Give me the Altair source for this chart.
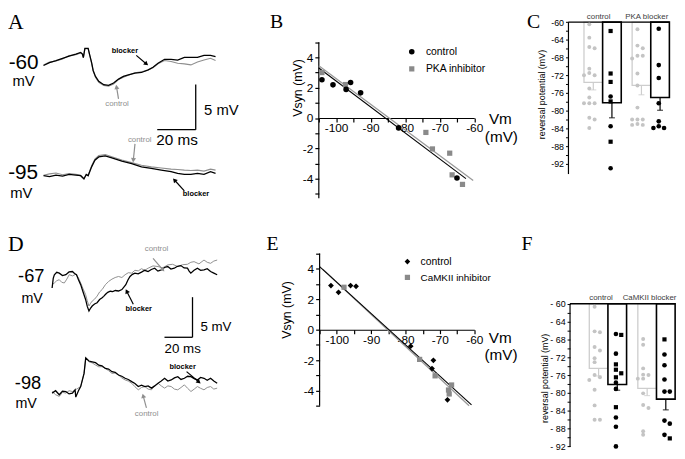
import math
import altair as alt
import pandas as pd

SANS = "Liberation Sans"
SERIF = "Liberation Serif"
BLACK = "#000000"
TRACE_GRAY = "#8f8f8f"
PT_GRAY = "#8a8a8a"
DOT_GRAY = "#c4c4c4"
BAR_GRAY = "#cdcdcd"
ONE = pd.DataFrame({"k": [0]})
SCALE_MS = 20
SCALE_MV = 5

# ---------------- (A) PKA experiment: time (ms) and deflection (mV) from trace start
A_TOP_T = [0, 3.1, 6.5, 9.9, 13.3, 16.8, 19.3, 20.2, 20.7, 21.5, 23.2, 23.9, 25.0, 25.8, 27.0, 28.7, 31.3, 33.8,
           36.4, 39.0, 41.5, 44.1, 47.5, 50.9, 54.4, 56.9, 59.5, 62.9, 66.3, 69.7, 73.2, 76.6, 80.0, 83.4, 86.8, 89.4]
A_TOP_BLOCKER = [0, 0.33, 0.55, 0.8, 1.05, 1.27, 1.45, 1.27, 0.87, 1.9, 1.9, 1.27, 0.33, -0.55, -1.2, -1.75, -2.12,
                 -2.19, -1.94, -1.5, -1.2, -1.03, -0.84, -0.77, -0.48, -0.19, 0.25, 0.69, 0.69, 0.61, 0.91, 0.91,
                 0.91, 1.13, 1.13, 0.98]
A_TOP_CONTROL = [0.05, 0.38, 0.5, 0.72, 1.1, 1.2, 1.4, 1.27, 0.87, 1.85, 1.85, 1.2, 0.25, -0.6, -1.3, -1.85, -2.2,
                 -2.3, -2.05, -1.55, -1.3, -1.08, -0.8, -0.7, -0.5, -0.25, 0.2, 0.55, 0.44, 0.25, 0.18, 0.07, 0.4,
                 0.61, 0.8, 0.55]
A_BOT_T = [0, 3.1, 6.5, 9.9, 13.3, 16.8, 19.3, 21.0, 22.2, 23.2, 25.0, 26.7, 28.7, 32.1, 35.5, 40.7, 45.8, 50.9,
           56.0, 61.2, 66.3, 69.7, 73.2, 76.6, 80.0, 83.4, 86.8, 89.4]
A_BOT_BLOCKER = [0, -0.11, 0.07, -0.04, 0.15, 0.07, 0, -0.36, 0.15, 0, 0.98, 1.72, 2.08, 2.19, 1.97, 1.61, 1.35,
                 0.98, 0.8, 0.62, 0.44, 0.26, 0.15, 0.15, 0.26, 0.15, 0.44, 0.26]
A_BOT_CONTROL = [0.05, 0.2, 0.3, 0.1, 0.25, 0.15, 0.05, -0.3, 0.1, 0.05, 1.1, 1.85, 2.25, 2.34, 2.1, 1.75, 1.45,
                 1.15, 0.98, 0.85, 0.73, 0.68, 0.62, 0.58, 0.62, 0.51, 0.73, 0.62]

# ---------------- (B) I-V, PKA inhibitor
B_CTRL_VM = [-104.1, -100.9, -97.1, -95.8, -92.9, -81.9, -65.0]
B_CTRL_VSYN = [2.53, 2.19, 1.89, 2.34, 1.66, -0.65, -3.96]
B_PKA_VM = [-104.1, -97.3, -74.0, -72.1, -67.1, -66.4, -63.4]
B_PKA_VSYN = [3.0, 2.21, -0.95, -2.04, -2.32, -3.75, -4.38]
B_FIT_CTRL_VM = [-105, -62.4]
B_FIT_CTRL_VSYN = [3.3, -4.0]
B_FIT_PKA_VM = [-105, -60.3]
B_FIT_PKA_VSYN = [3.45, -4.13]

# ---------------- (C) reversal potentials, PKA
C_GROUPS = ["control", "PKA blocker"]
C_MEAN_GRAY = [-73.6, -74.3]
C_SEM_GRAY = [1.7, 2.1]
C_MEAN_BLACK = [-78.2, -77.0]
C_SEM_BLACK = [3.4, 2.9]
C_DOTS_GRAY = [[-60.5, -63.5, -65.9, -65.6, -70.5, -71.5, -72.0, -72.0, -75.0, -77.0, -78.3, -78.3, -78.3, -81.6,
                -82.0, -83.9],
               [-61.6, -65.3, -65.9, -67.6, -67.6, -68.2, -71.6, -74.3, -79.3, -82.0, -82.0, -82.0, -83.0, -83.2,
                -83.2]]
C_DOTS_BLACK = [[-62.0, -71.6, -73.5, -76.8, -77.9, -83.5, -87.0, -93.0],
                [-61.5, -69.7, -72.6, -78.3, -83.9, -83.5, -82.4, -83.9]]
C_MARK_BLACK = [["square", "square", "square", "circle", "square", "circle", "square", "circle"],
                ["circle"] * 8]

# ---------------- (D) CaMKII experiment traces
D_TOP_T_B = [0, 0.8, 1.6, 3.3, 5.1, 7.4, 9.8, 12.1, 14.5, 16.0, 17.4, 18.9, 20.4, 22.1, 23.9, 25.1, 26.3, 27.5,
             28.6, 30.3, 32.1, 33.9, 35.7, 36.8, 38.0, 39.7, 41.5, 43.3, 45.1, 47.4, 49.8, 51.2, 52.6, 54.1, 55.6,
             57.3, 59.1, 61.4, 63.8, 66.1, 68.5, 70.8, 73.2, 75.5, 77.9, 80.2, 82.5, 84.8, 87.2, 89.5, 91.9, 94.2,
             96.6, 97.8, 99.0, 101.3, 103.7, 106.0, 108.4, 110.7, 113.1, 115.4, 117.8]
D_TOP_BLOCKER = [0, 1.2, 1.65, 1.95, 1.85, 1.55, 1.65, 2.0, 2.05, 1.8, 1.65, 1.0, 0.41, -0.5, -1.43, -2.3, -2.87,
                 -2.5, -2.25, -2.0, -1.84, -1.45, -1.23, -1.05, -0.82, -0.55, -0.41, -0.45, -0.32, -0.38, -0.2, 0.1,
                 0.41, 1.0, 1.43, 1.7, 1.85, 1.75, 1.97, 2.2, 2.05, 2.3, 2.46, 2.1, 2.26, 2.55, 2.67, 2.35, 2.46,
                 2.7, 2.79, 2.5, 2.46, 2.1, 1.85, 2.2, 2.46, 2.2, 2.26, 2.4, 2.05, 1.85, 1.65]
D_TOP_T_C = [0, 1.6, 3.3, 5.1, 6.9, 8.7, 10.5, 12.2, 14.6, 17.0, 18.7, 20.4, 22.1, 23.9, 25.1, 26.3, 27.5, 28.6,
             30.3, 32.1, 33.9, 35.7, 38.0, 40.4, 42.7, 45.0, 47.4, 49.8, 52.1, 54.4, 56.8, 59.1, 61.5, 63.8, 66.1,
             68.5, 72.0, 75.6, 79.0, 82.5, 86.0, 89.6, 93.1, 96.6, 99.0, 101.3, 104.8, 108.4, 110.7, 113.1, 115.4,
             117.8]
D_TOP_CONTROL = [0.41, 0.62, 0.9, 1.03, 0.7, 0.62, 1.1, 1.65, 1.5, 1.72, 1.3, 0.62, -0.1, -0.82, -1.6, -2.25, -1.9,
                 -1.64, -1.4, -1.02, -0.5, -0.2, 0.4, 0.82, 1.1, 1.3, 1.43, 1.3, 1.65, 1.9, 1.85, 2.2, 2.13, 2.4,
                 2.2, 2.46, 2.75, 2.67, 2.5, 2.87, 2.95, 2.67, 2.9, 2.95, 3.2, 3.28, 3.0, 3.48, 3.2, 3.07, 3.35,
                 3.48]
D_BOT_T_B = [0, 2.5, 5.1, 7.4, 9.8, 12.1, 14.5, 16.4, 16.9, 18.8, 20.4, 22.8, 24.0, 26.3, 28.6, 31.0, 33.3, 35.6,
             38.0, 40.3, 42.7, 45.0, 47.4, 49.7, 52.1, 54.4, 56.8, 59.1, 61.5, 63.8, 66.2, 68.5, 70.9, 73.2, 75.6,
             77.9, 80.3, 82.6, 85.0, 87.3, 89.7, 92.0, 94.4, 96.7, 99.1, 101.4, 103.7, 106.0, 108.4, 110.7, 113.1,
             115.4, 117.8]
D_BOT_BLOCKER = [0, 0.3, -0.2, 0.25, 0.2, -0.1, 0, 0.41, -0.5, 0.3, 0.82, 2.46, 4.4, 4.0, 3.9, 3.8, 3.48, 3.4,
                 3.07, 3.0, 2.67, 2.6, 2.26, 2.1, 1.85, 1.7, 1.43, 1.2, 0.82, 1.0, 0.82, 0.9, 0.62, 0.9, 1.23, 1.5,
                 1.85, 1.5, 1.64, 1.9, 2.05, 1.7, 1.85, 2.1, 2.05, 1.8, 1.64, 1.95, 1.85, 1.6, 1.85, 1.5, 1.23]
D_BOT_T_C = [0, 2.5, 5.1, 7.4, 9.8, 12.1, 14.5, 17.5, 20.4, 22.8, 24.0, 26.3, 28.6, 31.0, 33.3, 35.6, 38.0, 40.3,
             42.7, 45.0, 47.4, 49.7, 52.1, 54.4, 56.8, 59.1, 61.5, 63.8, 66.2, 68.5, 70.9, 73.2, 75.6, 77.9, 80.3,
             82.6, 85.0, 87.3, 89.7, 92.0, 94.4, 96.7, 99.1, 101.4, 103.7, 106.0, 108.4, 110.7, 113.1, 115.4, 117.8]
D_BOT_CONTROL = [0.2, -0.2, -0.41, 0.1, 0, 0.3, 0.2, 0.5, 0.82, 2.46, 4.35, 3.9, 3.77, 3.5, 3.28, 3.3, 3.07, 2.8,
                 2.46, 2.5, 2.26, 1.9, 1.64, 1.5, 1.23, 0.8, 0.41, 0.7, 0.82, 0.5, 0.41, 0.9, 1.23, 0.9, 0.62, 0.9,
                 0.82, 0.5, 0.41, 0.7, 1.03, 0.6, 0.2, 0.5, 0.82, 0.6, 0.41, 0.7, 0.82, 0.5, 0.62]

# ---------------- (E) I-V, CaMKII inhibitor
E_CTRL_VM = [-101.7, -99.5, -96.0, -94.4, -78.5, -71.9, -72.3, -67.8]
E_CTRL_VSYN = [2.90, 2.46, 2.90, 2.85, -1.08, -2.01, -2.55, -4.6]
E_CAM_VM = [-97.9, -75.9, -71.4, -67.5, -67.3, -66.6]
E_CAM_VSYN = [2.79, -1.95, -3.03, -3.96, -4.22, -3.63]
E_FIT_CTRL_VM = [-105, -60.8]
E_FIT_CTRL_VSYN = [4.15, -4.93]
E_FIT_CAM_VM = [-104, -61.5]
E_FIT_CAM_VSYN = [3.95, -5.0]

# ---------------- (F) reversal potentials, CaMKII
F_GROUPS = ["control", "CaMKII blocker"]
F_MEAN_GRAY = [-74.5, -79.0]
F_SEM_GRAY = [1.7, 1.6]
F_MEAN_BLACK = [-78.1, -81.4]
F_SEM_BLACK = [1.3, 2.4]
F_DOTS_GRAY = [[-60.7, -66.2, -66.4, -69.7, -70.5, -72.2, -73.1, -76.0, -76.5, -77.1, -79.3, -82.8, -86.0, -86.0],
               [-67.9, -69.2, -74.5, -75.9, -76.0, -76.8, -76.8, -80.1, -82.7, -83.4, -88.6, -89.4]]
F_DOTS_BLACK = [[-67.0, -66.8, -71.2, -73.6, -74.8, -75.6, -76.5, -77.7, -79.1, -83.2, -85.5, -87.6, -92.0],
                [-68.0, -71.4, -73.8, -77.0, -79.7, -79.7, -86.2, -86.9, -89.4, -90.2]]
F_MARK_BLACK = [["square", "circle", "circle", "square", "square", "square", "square", "circle", "circle", "square",
                 "circle", "circle", "circle"],
                ["square", "circle", "circle", "circle", "circle", "circle", "circle", "circle", "circle", "square"]]


# ---------------- helpers
def txt(text, x, y, size=11, color=BLACK, align="center", baseline="middle", font=SANS, weight="normal", angle=0):
    return alt.Chart(ONE).mark_text(text=text, fontSize=size, color=color, align=align, baseline=baseline,
                                    font=font, fontWeight=weight, angle=angle).encode(
        x=alt.value(x), y=alt.value(y))


def arrow(x1, y1, x2, y2, color):
    ang = math.degrees(math.atan2(x2 - x1, -(y2 - y1))) % 360
    shaft = alt.Chart(ONE).mark_rule(color=color, strokeWidth=1.2).encode(
        x=alt.value(x1), y=alt.value(y1), x2=alt.value(x2), y2=alt.value(y2))
    head = alt.Chart(ONE).mark_point(shape="triangle-up", filled=True, size=26, color=color, opacity=1,
                                     angle=ang).encode(x=alt.value(x2), y=alt.value(y2))
    return [shaft, head]


def sym(x, y, shape, color, size):
    return alt.Chart(ONE).mark_point(shape=shape, filled=True, size=size, color=color, opacity=1).encode(
        x=alt.value(x), y=alt.value(y))


def trace_panel(traces, xdom, ydom, w, h, corner, extra):
    xs = alt.Scale(domain=xdom, nice=False, zero=False)
    ys = alt.Scale(domain=ydom, nice=False, zero=False)
    layers = []
    for t, v, off, color, sw in traces:
        df = pd.DataFrame({"t": t, "v": [val + off for val in v]})
        layers.append(alt.Chart(df).mark_line(color=color, strokeWidth=sw).encode(
            x=alt.X("t:Q", scale=xs, axis=None), y=alt.Y("v:Q", scale=ys, axis=None)))
    tc, vc = corner
    sb = pd.DataFrame({"t0": [tc - SCALE_MS, tc], "t1": [tc, tc], "v0": [vc, vc], "v1": [vc, vc + SCALE_MV]})
    layers.append(alt.Chart(sb).mark_rule(color=BLACK, strokeWidth=1.3).encode(
        x=alt.X("t0:Q", scale=xs, axis=None), x2="t1:Q",
        y=alt.Y("v0:Q", scale=ys, axis=None), y2="v1:Q"))
    layers += extra
    return alt.layer(*layers).properties(width=w, height=h)


def iv_panel(cx, cy, dx_, dy_, fcx, fcy, fdx, fdy, ctrl_shape, ctrl_size, w, h, ydom, axis_lo, axis_hi, extra):
    xs = alt.Scale(domain=[-105, -60], nice=False, zero=False)
    ys = alt.Scale(domain=ydom, nice=False, zero=False)
    zero_px = h * ydom[1] / (ydom[1] - ydom[0])
    common = dict(grid=False, title=None, tickColor=BLACK, domainColor=BLACK, labelColor=BLACK, labelFont=SANS,
                  labelFontSize=12, tickSize=4, tickWidth=1.2, domainWidth=1.2, labelFlush=False,
                  labelOverlap=False)
    xax = alt.Axis(values=list(range(-105, -59, 5)),
                   labelExpr="datum.value % 10 == 0 ? '-' + abs(datum.value) : ''",
                   offset=-(h - zero_px), labelPadding=1, **common)
    yax = alt.Axis(values=list(range(-5, 6)),
                   labelExpr="datum.value % 2 == 0 ? (datum.value < 0 ? '-' + abs(datum.value) : '' + datum.value) : ''",
                   domain=False, labelPadding=2, **common)

    def X(f):
        return alt.X(f + ":Q", scale=xs, axis=xax)

    def Y(f):
        return alt.Y(f + ":Q", scale=ys, axis=yax)

    layers = [
        alt.Chart(ONE).mark_rule(color=BLACK, strokeWidth=1.2).encode(
            x=alt.value(0), y=alt.Y(datum=axis_hi, scale=ys, axis=yax), y2=alt.Y2(datum=axis_lo)),
        alt.Chart(pd.DataFrame({"vm": fdx, "vsyn": fdy})).mark_line(color="#9a9a9a", strokeWidth=1.3).encode(
            x=X("vm"), y=Y("vsyn")),
        alt.Chart(pd.DataFrame({"vm": fcx, "vsyn": fcy})).mark_line(color=BLACK, strokeWidth=1.1).encode(
            x=X("vm"), y=Y("vsyn")),
        alt.Chart(pd.DataFrame({"vm": dx_, "vsyn": dy_})).mark_point(
            shape="square", filled=True, size=28, color=PT_GRAY, opacity=1).encode(x=X("vm"), y=Y("vsyn")),
        alt.Chart(pd.DataFrame({"vm": cx, "vsyn": cy})).mark_point(
            shape=ctrl_shape, filled=True, size=ctrl_size, color=BLACK, opacity=1).encode(x=X("vm"), y=Y("vsyn")),
    ]
    layers += extra
    return alt.layer(*layers).properties(width=w, height=h)


def lanes(values, gap=0.8):
    order = sorted(range(len(values)), key=lambda i: -values[i])
    out = [0] * len(values)
    prev, cur = None, 0
    for i in order:
        cur = (cur + 1) % 3 if (prev is not None and prev - values[i] <= gap) else 0
        out[i] = cur
        prev = values[i]
    return out


LANE_SLOT = {0: 1, 1: 2, 2: 0}
SLOTS = [f"{c}{k}" for c in "gk" for k in range(4)]


def dots_frame(groups, per_group, cond, marks=None):
    rows = []
    for gi, g in enumerate(groups):
        vals = per_group[gi]
        ln = lanes(vals)
        for j, v in enumerate(vals):
            rows.append({"group": g, "slot": f"{cond}{LANE_SLOT[ln[j]]}", "value": v,
                         "mk": marks[gi][j] if marks else "circle"})
    return pd.DataFrame(rows)


def bar_panel(groups, mg, sg, mk, sk, dg, dk, mkk, w, h, ydom, axis_lo, band, top_end, label_expr,
              glabel_y, glabel_dx, extra):
    xs = alt.Scale(domain=groups, paddingInner=band[0], paddingOuter=band[1], align=band[2])
    ys = alt.Scale(domain=ydom, nice=False, zero=False)
    yax = alt.Axis(values=list(range(-92, -59, 2)), labelExpr=label_expr, domain=False, grid=False, title=None,
                   tickSize=3, tickColor=BLACK, labelColor=BLACK, labelFont=SANS, labelFontSize=9,
                   labelPadding=2, labelFlush=False, labelOverlap=False)
    X = alt.X("group:N", scale=xs, axis=None)
    cond_off = alt.XOffset("cond:N", scale=alt.Scale(domain=["g", "k"], paddingInner=0, paddingOuter=0))
    slot_off = alt.XOffset("slot:N", scale=alt.Scale(domain=SLOTS, paddingInner=0, paddingOuter=0))
    allm = mg + mk
    alls = sg + sk
    bars = pd.DataFrame({"group": groups + groups, "cond": ["g"] * len(groups) + ["k"] * len(groups),
                         "mean": allm, "lo": [m - s for m, s in zip(allm, alls)]})
    layers = [
        alt.Chart(ONE).mark_rule(color=BLACK, strokeWidth=1.2).encode(
            x=alt.value(0), y=alt.Y(datum=-60, scale=ys, axis=yax), y2=alt.Y2(datum=axis_lo)),
    ]
    for cond, stroke, sw in (("g", BAR_GRAY, 1.3), ("k", BLACK, 1.6)):
        sub = bars[bars["cond"] == cond]
        layers.append(alt.Chart(sub).mark_bar(fill="white", stroke=stroke, strokeWidth=sw).encode(
            x=X, xOffset=cond_off, y=alt.Y("mean:Q", scale=ys, axis=yax), y2=alt.Y2(datum=-60)))
    layers.append(alt.Chart(ONE).mark_rule(color=BLACK, strokeWidth=1.4).encode(
        x=alt.value(0), x2=alt.value(top_end), y=alt.Y(datum=-60, scale=ys, axis=yax)))
    for cond, color in (("g", BAR_GRAY), ("k", BLACK)):
        sub = bars[bars["cond"] == cond]
        layers.append(alt.Chart(sub).mark_rule(color=color, strokeWidth=1.2).encode(
            x=X, xOffset=cond_off, y=alt.Y("mean:Q", scale=ys, axis=yax), y2="lo:Q"))
        layers.append(alt.Chart(sub).mark_tick(color=color, thickness=1.2, size=6).encode(
            x=X, xOffset=cond_off, y=alt.Y("lo:Q", scale=ys, axis=yax)))
    gd = dots_frame(groups, dg, "g")
    kd = dots_frame(groups, dk, "k", mkk)
    layers.append(alt.Chart(gd).mark_point(shape="circle", filled=True, size=16, color=DOT_GRAY, opacity=1).encode(
        x=X, xOffset=slot_off, y=alt.Y("value:Q", scale=ys, axis=yax)))
    for shp, size in (("circle", 22), ("square", 18)):
        sub = kd[kd["mk"] == shp]
        layers.append(alt.Chart(sub).mark_point(shape=shp, filled=True, size=size, color=BLACK, opacity=1).encode(
            x=X, xOffset=slot_off, y=alt.Y("value:Q", scale=ys, axis=yax)))
    layers.append(alt.Chart(pd.DataFrame({"group": groups})).mark_text(
        font=SANS, fontSize=8, color="#404040", dx=glabel_dx).encode(x=X, y=alt.value(glabel_y), text="group:N"))
    layers += extra
    return alt.layer(*layers).resolve_scale(xOffset="independent").properties(width=w, height=h)


# ---------------- panels
panel_a = trace_panel(
    [(A_TOP_T, A_TOP_CONTROL, 2.565, TRACE_GRAY, 1.1), (A_TOP_T, A_TOP_BLOCKER, 2.565, BLACK, 1.3),
     (A_BOT_T, A_BOT_CONTROL, -9.64, TRACE_GRAY, 1.1), (A_BOT_T, A_BOT_BLOCKER, -9.64, BLACK, 1.3)],
    [-18.46, 94.1], [-15, 8.5], 219.5, 215, (79.1, -4.54),
    [txt("A", 0, 0, size=22, font=SERIF, align="left", baseline="top"),
     txt("-60", 31, 52, size=21, align="right"), txt("mV", 27, 70.5, size=15, align="right"),
     txt("-95", 30.5, 163, size=21, align="right"), txt("mV", 24.7, 183.5, size=15, align="right"),
     txt("5 mV", 198.7, 99.3, size=15, align="left"), txt("20 ms", 150.3, 130.3, size=15.5, align="left"),
     txt("blocker", 118.5, 40, size=7.5, weight="bold"),
     txt("control", 110.5, 93.7, size=8, color=TRACE_GRAY),
     txt("control", 133.5, 129.3, size=8, color=TRACE_GRAY),
     txt("blocker", 190.5, 184.3, size=7.5, weight="bold")]
    + arrow(130, 44, 140.3, 52.7, BLACK) + arrow(112, 88, 110, 76, TRACE_GRAY)
    + arrow(128.7, 133.7, 127, 150.3, TRACE_GRAY) + arrow(178.7, 181.3, 168.7, 170.3, BLACK))

panel_b = iv_panel(
    B_CTRL_VM, B_CTRL_VSYN, B_PKA_VM, B_PKA_VSYN, B_FIT_CTRL_VM, B_FIT_CTRL_VSYN, B_FIT_PKA_VM, B_FIT_PKA_VSYN,
    "circle", 32, 157.5, 215, [-7, 7], -5.3, 5,
    [txt("B", -49.5, 0, size=20, font=SERIF, align="left", baseline="top"),
     txt("Vsyn (mV)", -21, 77, size=12.5, angle=270),
     sym(94.2, 40.3, "circle", BLACK, 32), txt("control", 108.5, 40.8, size=10.5, align="left"),
     sym(94.2, 57.7, "square", PT_GRAY, 28), txt("PKA inhibitor", 108.5, 58.2, size=10.5, align="left"),
     txt("Vm", 184, 108.5, size=15.5), txt("(mV)", 185, 126.5, size=15.5)])

panel_c = bar_panel(
    C_GROUPS, C_MEAN_GRAY, C_SEM_GRAY, C_MEAN_BLACK, C_SEM_BLACK, C_DOTS_GRAY, C_DOTS_BLACK, C_MARK_BLACK,
    105, 215, [-105.6, -57.7], -94.3, (0.226, 0.189, 0.853), 102.3,
    "datum.value % 4 == 0 ? '-' + abs(datum.value) : ''", 5, -4,
    [txt("C", -42, 0, size=20, font=SERIF, align="left", baseline="top"),
     txt("reversal potential (mV)", -27, 83.7, size=9, angle=270)])

panel_d = trace_panel(
    [(D_TOP_T_C, D_TOP_CONTROL, 1.27, TRACE_GRAY, 1.0), (D_TOP_T_B, D_TOP_BLOCKER, 1.27, BLACK, 1.3),
     (D_BOT_T_C, D_BOT_CONTROL, -11.84, TRACE_GRAY, 1.0), (D_BOT_T_B, D_BOT_BLOCKER, -11.84, BLACK, 1.3)],
    [-31.48, 122.67], [-18.57, 8], 218.9, 216, (100.2, -4.88),
    [txt("D", 0, 0, size=22, font=SERIF, align="left", baseline="top"),
     txt("-67", 37, 42.5, size=18.5, align="right"), txt("mV", 35.3, 65.5, size=14.5, align="right"),
     txt("-98", 33.7, 151.5, size=18.5, align="right"), txt("mV", 29.3, 172, size=14.5, align="right"),
     txt("5 mV", 195, 94, size=13.5, align="left"), txt("20 ms", 158.7, 116.3, size=13.5, align="left"),
     txt("control", 150.5, 15.3, size=8, color=TRACE_GRAY),
     txt("blocker", 132.5, 76.3, size=7.5, weight="bold"),
     txt("blocker", 177, 135, size=7.5, weight="bold"),
     txt("control", 140.5, 182, size=8, color=TRACE_GRAY)]
    + arrow(147, 24.7, 157, 36.3, TRACE_GRAY) + arrow(127, 71.3, 120.3, 58, BLACK)
    + arrow(181, 139.5, 193.5, 150, BLACK) + arrow(140.3, 176.3, 137, 164, TRACE_GRAY))

panel_e = iv_panel(
    E_CTRL_VM, E_CTRL_VSYN, E_CAM_VM, E_CAM_VSYN, E_FIT_CTRL_VM, E_FIT_CTRL_VSYN, E_FIT_CAM_VM, E_FIT_CAM_VSYN,
    "diamond", 34, 156.75, 216, [-7.71, 6.29], -5, 5,
    [txt("E", -53.7, 0, size=20, font=SERIF, align="left", baseline="top"),
     txt("Vsyn (mV)", -32.7, 77, size=12.5, angle=270),
     sym(89, 28, "diamond", BLACK, 32), txt("control", 102.3, 28.5, size=10.5, align="left"),
     sym(89, 44, "square", PT_GRAY, 28), txt("CaMKII inhibitor", 102.3, 44.5, size=10, align="left"),
     txt("Vm", 183, 105.5, size=15.5), txt("(mV)", 183.8, 123, size=15.5)])

panel_f = bar_panel(
    F_GROUPS, F_MEAN_GRAY, F_SEM_GRAY, F_MEAN_BLACK, F_SEM_BLACK, F_DOTS_GRAY, F_DOTS_BLACK, F_MARK_BLACK,
    106.5, 216, [-92.15, -44.36], -92.1, (0.2317, 0.1982, 1.0), 106.5,
    "datum.value % 4 == 0 ? '- ' + abs(datum.value) : ''", 64.7, -7,
    [txt("F", -49.3, 0, size=20, font=SERIF, align="left", baseline="top"),
     txt("reversal potential (mV)", -25, 146.3, size=9, angle=270)])

row1 = alt.hconcat(panel_a, panel_b, panel_c, spacing=95, bounds="flush").resolve_scale(xOffset="independent")
row2 = alt.hconcat(panel_d, panel_e, panel_f, spacing=96.8, bounds="flush").resolve_scale(xOffset="independent")
chart = (alt.vconcat(row1, row2, spacing=9)
         .resolve_scale(xOffset="independent")
         .properties(padding=0)
         .configure_view(stroke=None))

chart.save("out.html", embed_options={"renderer": "svg", "actions": False})
